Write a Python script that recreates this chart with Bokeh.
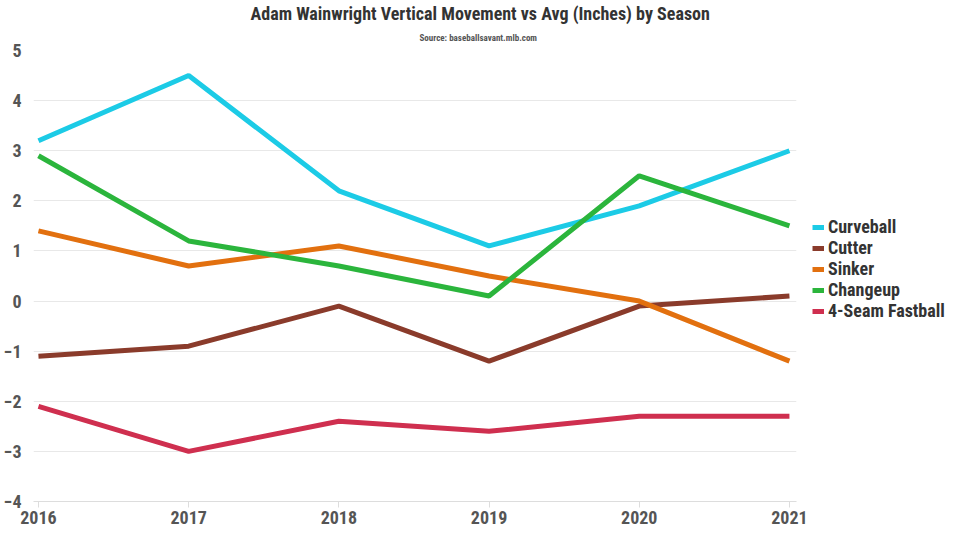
from bokeh.plotting import figure
from bokeh.models import Range1d, Legend, LegendItem, Title, FixedTicker
from bokeh.embed import file_html
from bokeh.resources import INLINE

seasons = [2016, 2017, 2018, 2019, 2020, 2021]
curveball = [3.2, 4.5, 2.2, 1.1, 1.9, 3.0]
cutter = [-1.1, -0.9, -0.1, -1.2, -0.1, 0.1]
sinker = [1.4, 0.7, 1.1, 0.5, 0.0, -1.2]
changeup = [2.9, 1.2, 0.7, 0.1, 2.5, 1.5]
fastball = [-2.1, -3.0, -2.4, -2.6, -2.3, -2.3]
names = ["Curveball", "Cutter", "Sinker", "Changeup", "4-Seam Fastball"]
colors = ["#1ccbe6", "#8a3b2b", "#e2700f", "#2bb53c", "#cf2f4f"]
y_ticks = [-4, -3, -2, -1, 0, 1, 2, 3, 4, 5]

FONT = "'Roboto Condensed', 'DejaVu Sans Condensed', Roboto"

p = figure(frame_width=763, frame_height=451, output_backend="svg", toolbar_location=None,
           x_range=Range1d(2015.967, 2021.047), y_range=Range1d(-4, 5.0),
           min_border_left=27, min_border_right=154, min_border_top=0, min_border_bottom=30)
p.outline_line_color = None

sub = Title(text="Source: baseballsavant.mlb.com", align="left", text_font=FONT,
            text_font_size="9px", text_font_style="bold", text_color="#555555",
            offset=386, standoff=15)
p.add_layout(sub, "above")
main = Title(text="Adam Wainwright Vertical Movement vs Avg (Inches) by Season", align="left",
             text_font=FONT, text_font_size="18px", text_font_style="bold", text_color="#333333",
             offset=217, standoff=0)
p.add_layout(main, "above")

items = []
for name, ys, c in zip(names, [curveball, cutter, sinker, changeup, fastball], colors):
    r = p.line(seasons, ys, line_color=c, line_width=5)
    items.append(LegendItem(label=name, renderers=[r]))

legend = Legend(items=items, location=(16, 180), border_line_color=None, background_fill_alpha=0,
                label_text_font=FONT, label_text_font_size="18px", label_text_font_style="bold",
                label_text_color="#333333", glyph_width=12, glyph_height=14, spacing=0,
                label_height=21, padding=0, margin=0, label_standoff=4)
p.add_layout(legend, "right")

p.xaxis.ticker = FixedTicker(ticks=seasons)
p.yaxis.ticker = FixedTicker(ticks=y_ticks)
for ax in (p.xaxis, p.yaxis):
    ax.major_label_text_font = FONT
    ax.major_label_text_font_size = "18px"
    ax.major_label_text_font_style = "bold"
    ax.major_label_text_color = "#555555"
    ax.minor_tick_line_color = None
p.xaxis.axis_line_color = "#dddddd"
p.xaxis.major_tick_line_color = "#dddddd"
p.xaxis.major_tick_in = 0
p.xaxis.major_tick_out = 6
p.xaxis.major_label_standoff = 3
p.yaxis.axis_line_color = None
p.yaxis.major_tick_line_color = None
p.yaxis.major_label_standoff = 6
p.xgrid.grid_line_color = None
p.ygrid.grid_line_color = "#e8e8e8"

open("out.html", "w").write(file_html(p, INLINE))
